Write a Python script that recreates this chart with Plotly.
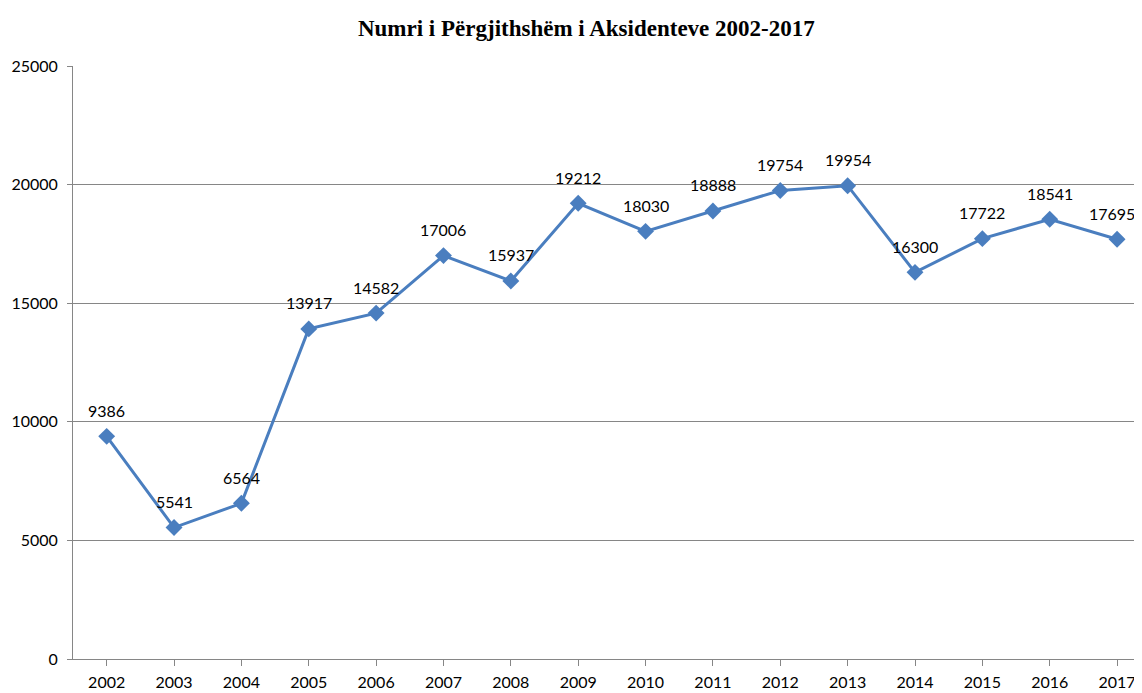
import plotly.graph_objects as go

years = ["2002", "2003", "2004", "2005", "2006", "2007", "2008", "2009",
         "2010", "2011", "2012", "2013", "2014", "2015", "2016", "2017"]
accidents = [9386, 5541, 6564, 13917, 14582, 17006, 15937, 19212,
             18030, 18888, 19754, 19954, 16300, 17722, 18541, 17695]
y_ticks = [0, 5000, 10000, 15000, 20000, 25000]

line_color = "#4A7EBF"
axis_color = "#868686"
tick_font = dict(family="Lato, Carlito, Calibri, sans-serif", size=16, color="#000000")

fig = go.Figure()
fig.add_trace(go.Scatter(
    x=list(range(len(years))), y=accidents,
    mode="lines+markers",
    line=dict(color=line_color, width=3),
    marker=dict(symbol="diamond", size=13, color=line_color),
    hoverinfo="skip",
    showlegend=False,
))

for i, v in enumerate(accidents):
    last = i == len(accidents) - 1
    fig.add_annotation(x=i, y=v, text=str(v), showarrow=False,
                       yshift=26, xshift=-5 if last else 0, font=tick_font)

fig.update_layout(
    width=1134, height=685,
    margin=dict(l=65, r=0, t=58, b=34),
    paper_bgcolor="white", plot_bgcolor="white",
    title=dict(text="<b>Numri i Përgjithshëm i Aksidenteve 2002-2017</b>",
               x=0.51, xanchor="center", y=1 - 20 / 685, yanchor="middle",
               font=dict(family="Liberation Serif, Times New Roman, serif", size=23, color="#000000")),
    xaxis=dict(
        tickmode="array", tickvals=list(range(len(years))), ticktext=years,
        range=[-0.5, 15.37],
        showgrid=False, zeroline=False,
        showline=True, linecolor=axis_color, linewidth=1,
        ticks="outside", tickson="boundaries", ticklen=6, tickcolor=axis_color,
        tickfont=tick_font, ticklabelstandoff=3, automargin=False,
    ),
    yaxis=dict(
        range=[0, 25000], tickvals=y_ticks, tickformat="d",
        showgrid=True, gridcolor=axis_color, gridwidth=1,
        zeroline=False,
        showline=True, linecolor=axis_color, linewidth=1,
        ticks="outside", ticklen=5, tickcolor=axis_color,
        tickfont=tick_font, ticklabelstandoff=6, automargin=False,
    ),
)

fig.write_html("out.html")
